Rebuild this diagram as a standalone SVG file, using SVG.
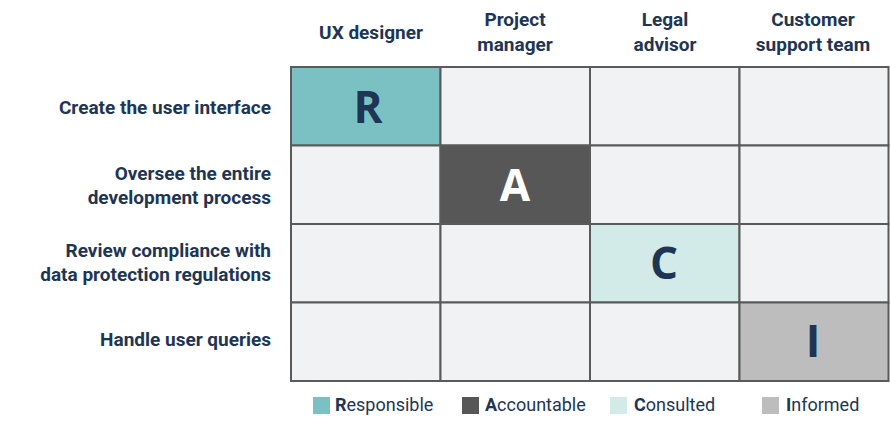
<svg xmlns="http://www.w3.org/2000/svg" width="890" height="427" viewBox="0 0 890 427">
<style>
.cell{fill:#f0f2f4;stroke:#5a5a5a;stroke-width:2}
.h{font-family:Roboto,"Liberation Sans",sans-serif;font-weight:bold;font-size:19px;fill:#1e3553}
.big{font-family:"Open Sans","Liberation Sans",sans-serif;font-weight:bold;font-size:44px;text-anchor:middle}
.lg{font-family:Roboto,"Liberation Sans",sans-serif;font-size:18px;fill:#1e3553}
</style>
<rect width="890" height="427" fill="#fff"/>
<g id="headers" class="h" text-anchor="middle">
<text x="371" y="39">UX designer</text>
<text x="515" y="26">Project</text><text x="515" y="51">manager</text>
<text x="665" y="26">Legal</text><text x="665" y="51">advisor</text>
<text x="813" y="26">Customer</text><text x="813" y="51">support team</text>
</g>
<g id="rows" class="h" text-anchor="end">
<text x="271" y="114">Create the user interface</text>
<text x="271" y="180">Oversee the entire</text><text x="271" y="204">development process</text>
<text x="271" y="257">Review compliance with</text><text x="271" y="281">data protection regulations</text>
<text x="271" y="346">Handle user queries</text>
</g>
<g id="grid">
<rect class="cell" x="291" y="67" width="149.5" height="78.5" style="fill:#7bc1c4"/>
<rect class="cell" x="440.5" y="67" width="149.5" height="78.5"/>
<rect class="cell" x="590" y="67" width="149.5" height="78.5"/>
<rect class="cell" x="739.5" y="67" width="149" height="78.5"/>
<rect class="cell" x="291" y="145.5" width="149.5" height="78.5"/>
<rect class="cell" x="440.5" y="145.5" width="149.5" height="78.5" style="fill:#575757"/>
<rect class="cell" x="590" y="145.5" width="149.5" height="78.5"/>
<rect class="cell" x="739.5" y="145.5" width="149" height="78.5"/>
<rect class="cell" x="291" y="224" width="149.5" height="78.5"/>
<rect class="cell" x="440.5" y="224" width="149.5" height="78.5"/>
<rect class="cell" x="590" y="224" width="149.5" height="78.5" style="fill:#d3ebe8"/>
<rect class="cell" x="739.5" y="224" width="149" height="78.5"/>
<rect class="cell" x="291" y="302.5" width="149.5" height="78.5"/>
<rect class="cell" x="440.5" y="302.5" width="149.5" height="78.5"/>
<rect class="cell" x="590" y="302.5" width="149.5" height="78.5"/>
<rect class="cell" x="739.5" y="302.5" width="149" height="78.5" style="fill:#bdbdbd"/>
</g>
<g id="letters" class="big">
<text x="368" y="123" fill="#1e3553">R</text>
<text x="515" y="201" fill="#fff">A</text>
<text x="664" y="279" fill="#1e3553">C</text>
<text x="813" y="357" fill="#1e3553">I</text>
</g>
<g id="legend" class="lg">
<rect x="313" y="397" width="17" height="17" fill="#7bc1c4"/>
<text x="335" y="411"><tspan font-weight="bold">R</tspan>esponsible</text>
<rect x="462" y="397" width="17" height="17" fill="#575757"/>
<text x="485" y="411"><tspan font-weight="bold">A</tspan>ccountable</text>
<rect x="610" y="397" width="17" height="17" fill="#d3ebe8"/>
<text x="634" y="411"><tspan font-weight="bold">C</tspan>onsulted</text>
<rect x="762" y="397" width="17" height="17" fill="#bdbdbd"/>
<text x="786" y="411"><tspan font-weight="bold">I</tspan>nformed</text>
</g>
</svg>
